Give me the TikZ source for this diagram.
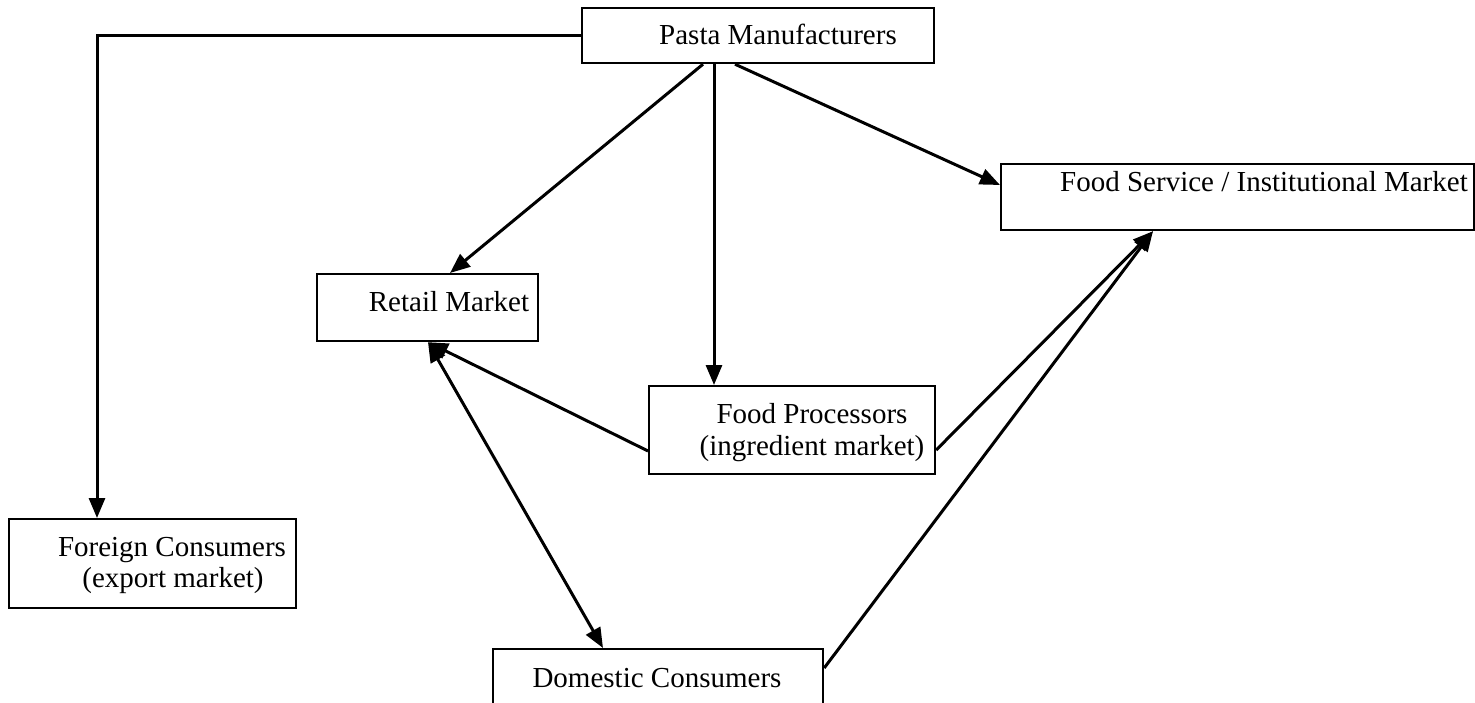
\documentclass[tikz,border=0pt]{standalone}
\usepackage{fontspec}
\setmainfont{Liberation Serif}
\usetikzlibrary{arrows.meta,calc}
\begin{document}
\begin{tikzpicture}[x=1pt,y=-1pt,
  box/.style={draw,line width=2.2pt,inner sep=0pt,anchor=north west},
  lbl/.style={font=\fontsize{29}{32}\selectfont,inner sep=0pt,anchor=base},
  arr/.style={line width=3pt,-{Triangle[length=20pt,width=16pt]}},
  darr/.style={line width=3pt,{Triangle[length=20pt,width=16pt]}-{Triangle[length=20pt,width=16pt]}}]
\useasboundingbox (0,0) rectangle (1475,703);
% boxes
\node[box,minimum width=352pt,minimum height=55pt] (pm) at (581,7) {};
\node[box,minimum width=473pt,minimum height=66pt] (fs) at (1000,163) {};
\node[box,minimum width=221pt,minimum height=67pt] (rm) at (316,273) {};
\node[box,minimum width=286pt,minimum height=88pt] (fp) at (648,385) {};
\node[box,minimum width=287pt,minimum height=89pt] (fc) at (8,518) {};
\node[box,minimum width=330pt,minimum height=72pt] (dc) at (492,648) {};
% labels
\node[lbl] (pmt) at (778,45) {Pasta Manufacturers};
\node[lbl] (fst) at (1264,192) {Food Service / Institutional Market};
\node[lbl] (rmt) at (449,312) {Retail Market};
\node[lbl] (fpt1) at (812,423) {Food Processors};
\node[lbl] (fpt2) at (812,455) {(ingredient market)};
\node[lbl] (fct1) at (172,556) {Foreign Consumers};
\node[lbl] (fct2) at (173,587) {(export market)};
\node[lbl] (dct) at (657,687) {Domestic Consumers};
% attachment points
\coordinate (pmA) at ($(pm.south west)+(122,0)$);
\coordinate (pmB) at ($(pm.south west)+(133,0)$);
\coordinate (pmC) at ($(pm.south west)+(154,0)$);
\coordinate (rmT) at ($(rm.north west)+(134,0)$);
\coordinate (rmB) at ($(rm.south west)+(112,0)$);
\coordinate (fpT) at ($(fp.north west)+(66,0)$);
\coordinate (fpL) at ($(fp.north west)+(0,66)$);
\coordinate (fpR) at ($(fp.north east)+(0,65)$);
\coordinate (fsL) at ($(fs.north west)+(0,22)$);
\coordinate (fsB) at ($(fs.south west)+(153,0)$);
\coordinate (dcT) at ($(dc.north west)+(111,0)$);
\coordinate (dcR) at ($(dc.north east)+(0,20)$);
\coordinate (fcT) at ($(fc.north west)+(89,0)$);
% connectors
\draw[arr] (pm.west) -| (fcT);
\draw[arr] (pmA) -- (rmT);
\draw[arr] (pmB) -- (fpT);
\draw[arr] (pmC) -- (fsL);
\draw[arr] (fpL) -- (rmB);
\draw[arr] (fpR) -- (fsB);
\draw[arr] (dcR) -- (fsB);
\draw[darr] (rmB) -- (dcT);
\end{tikzpicture}
\end{document}
